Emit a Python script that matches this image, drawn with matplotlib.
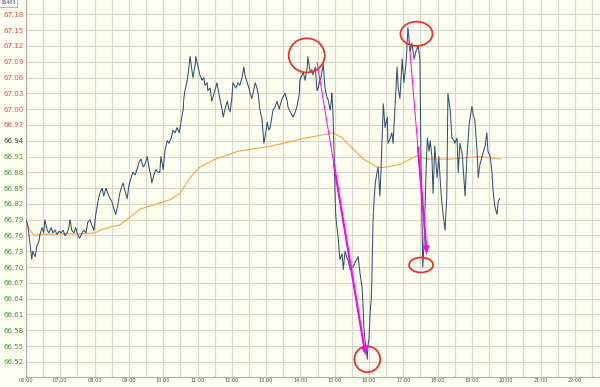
import matplotlib

matplotlib.use("Agg")
import matplotlib.pyplot as plt
from matplotlib.patches import Ellipse
import numpy as np

# intraday price, minutes after 06:00
price_min = [
    0, 3, 7, 10, 12, 16, 19, 23, 24, 28,
    31, 33, 37, 40, 44, 47, 51, 54, 58, 61,
    65, 68, 72, 75, 77, 80, 84, 87, 91, 94,
    98, 101, 105, 108, 112, 115, 119, 122, 126, 129,
    133, 136, 140, 143, 147, 150, 154, 157, 161, 164,
    168, 170, 173, 177, 180, 184, 187, 191, 194, 198,
    201, 205, 208, 212, 215, 219, 220, 224, 227, 231,
    234, 236, 240, 243, 247, 250, 254, 257, 261, 264,
    268, 271, 275, 276, 278, 282, 285, 287, 290, 292,
    296, 297, 301, 304, 308, 311, 313, 317, 318, 322,
    325, 329, 334, 339, 343, 345, 348, 352, 355, 357,
    360, 362, 367, 371, 374, 378, 381, 383, 387, 390,
    392, 395, 399, 401, 404, 406, 409, 413, 416, 420,
    422, 425, 427, 430, 432, 436, 439, 443, 444, 448,
    453, 457, 458, 462, 465, 467, 471, 474, 478, 479,
    483, 485, 488, 492, 493, 497, 500, 502, 506, 509,
    511, 514, 516, 520, 523, 527, 528, 532, 534, 535,
    537, 539, 541, 542, 546, 549, 553, 555, 558, 562,
    563, 567, 570, 572, 576, 579, 581, 584, 586, 588,
    590, 591, 593, 595, 597, 598, 600, 602, 604, 605,
    607, 609, 611, 614, 616, 619, 621, 623, 625, 628,
    632, 633, 637, 640, 642, 646, 649, 651, 654, 658,
    661, 665, 668, 672, 675, 679, 682, 686, 689, 691,
    693, 694, 696, 700, 702, 705, 707, 710, 712, 715,
    719, 722, 726, 729, 733, 736, 738, 742, 745, 749,
    750, 754, 756, 759, 763, 768, 771, 775, 780, 782,
    785, 789, 791, 794, 799, 803, 806, 808, 812, 815,
    817, 820, 824, 826, 829,
]
price = [
    66.79, 66.78, 66.745, 66.715, 66.73, 66.72, 66.74, 66.75, 66.76, 66.775,
    66.765, 66.79, 66.77, 66.765, 66.775, 66.765, 66.77, 66.762, 66.768, 66.765,
    66.77, 66.76, 66.765, 66.775, 66.79, 66.77, 66.765, 66.775, 66.76, 66.755,
    66.765, 66.77, 66.765, 66.785, 66.79, 66.78, 66.77, 66.80, 66.825, 66.84,
    66.85, 66.835, 66.85, 66.84, 66.83, 66.825, 66.81, 66.80, 66.82, 66.84,
    66.855, 66.86, 66.845, 66.83, 66.855, 66.87, 66.88, 66.875, 66.885, 66.90,
    66.905, 66.89, 66.895, 66.91, 66.89, 66.87, 66.86, 66.875, 66.885, 66.88,
    66.88, 66.91, 66.885, 66.92, 66.94, 66.935, 66.945, 66.96, 66.955, 66.965,
    66.955, 66.975, 67.00, 67.02, 67.035, 67.055, 67.08, 67.10, 67.075, 67.06,
    67.085, 67.10, 67.08, 67.065, 67.055, 67.06, 67.045, 67.05, 67.035, 67.04,
    67.015, 67.03, 67.05, 67.02, 67.00, 66.985, 67.0, 67.015, 67.0, 66.995,
    67.02, 67.05, 67.04, 67.05, 67.045, 67.06, 67.08, 67.065, 67.05, 67.04,
    67.03, 67.02, 67.04, 67.05, 67.04, 67.03, 67.0, 66.98, 66.935, 66.96,
    66.975, 66.96, 66.965, 66.985, 66.998, 67.005, 67.015, 67.0, 67.005, 67.02,
    67.03, 67.015, 67.005, 66.995, 66.99, 66.985, 66.995, 67.005, 67.03, 67.055,
    67.065, 67.07, 67.055, 67.08, 67.10, 67.07, 67.075, 67.065, 67.08, 67.035,
    67.04, 67.055, 67.06, 67.085, 67.04, 67.02, 67.02, 66.998, 67.015, 67.03,
    66.99, 66.91, 66.82, 66.795, 66.755, 66.715, 66.725, 66.695, 66.73, 66.715,
    66.715, 66.695, 66.70, 66.70, 66.71, 66.715, 66.72, 66.69, 66.675, 66.66,
    66.615, 66.585, 66.56, 66.545, 66.525, 66.55, 66.565, 66.615, 66.64, 66.68,
    66.79, 66.83, 66.86, 66.88, 66.89, 66.835, 66.885, 66.945, 67.01, 66.965,
    66.985, 66.935, 66.945, 66.955, 66.935, 67.015, 67.08, 67.04, 67.02, 67.095,
    67.05, 67.09, 67.155, 67.11, 67.125, 67.095, 67.11, 67.12, 67.095, 66.89,
    66.765, 66.70, 66.74, 66.89, 66.945, 66.92, 66.94, 66.91, 66.84, 66.93,
    66.87, 66.91, 66.84, 66.805, 66.77, 66.835, 67.03, 66.998, 66.945, 66.94,
    66.935, 66.945, 66.88, 66.935, 66.915, 66.835, 66.905, 66.97, 67.005, 66.99,
    66.98, 66.92, 66.87, 66.895, 66.915, 66.93, 66.955, 66.92, 66.91, 66.88,
    66.845, 66.815, 66.80, 66.825, 66.83,
]

# average price line
avg_min = [0, 7, 14, 24, 59, 94, 121, 129, 147, 164, 182, 199, 229, 252, 269,
           287, 304, 331, 371, 430, 488, 514, 537, 553, 567, 590, 614, 625,
           654, 684, 701, 742, 794, 829]
avg = [66.785, 66.77, 66.76, 66.762, 66.763, 66.763, 66.765, 66.77, 66.776,
       66.78, 66.795, 66.81, 66.82, 66.828, 66.84, 66.87, 66.89, 66.905, 66.92,
       66.93, 66.945, 66.95, 66.955, 66.945, 66.93, 66.905, 66.89, 66.889,
       66.895, 66.912, 66.905, 66.905, 66.91, 66.905]

prev_close = 66.94
hour_labels = ["06:00", "07:00", "08:00", "09:00", "10:00", "11:00", "12:00",
               "13:00", "14:00", "15:00", "16:00", "17:00", "18:00", "19:00",
               "20:00", "21:00", "22:00"]

BG = "#FFFFF0"
fig = plt.figure(figsize=(6, 3.87), dpi=100, facecolor=BG)
ax = fig.add_axes([26 / 600, 10 / 387, 574 / 600, 377 / 387])
ax.set_facecolor(BG)

t = np.array(price_min)
p = np.array(price)
ax.plot(6 + t / 60, p, color="#34506e", lw=0.75, zorder=3)
ax.plot(6 + np.array(avg_min) / 60, avg, color="#F7A54C", lw=0.8, zorder=2)

ax.set_xlim(6, 6 + 1004 / 60)
ax.set_ylim(66.4913, 67.2072)

ax.set_xticks(np.arange(6, 6 + len(hour_labels)))
ax.set_xticklabels(hour_labels)
ax.set_xticks(np.arange(6.5, 23, 1.0), minor=True)
yt = np.round(np.arange(66.52, 67.19, 0.03), 2)
ax.set_yticks(yt)
ax.set_yticklabels([f"{v:.2f}" for v in yt])
for lbl, v in zip(ax.get_yticklabels(), yt):
    if v > prev_close + 1e-9:
        lbl.set_color("#F24848")
    elif v < prev_close - 1e-9:
        lbl.set_color("#3C9A3C")
    else:
        lbl.set_color("#444444")

ax.grid(which="both", axis="x", color="#d6d6cc", lw=0.8)
ax.grid(which="major", axis="y", color="#d6d6cc", lw=0.8)
ax.set_axisbelow(True)
ax.tick_params(which="both", length=0)
ax.tick_params(axis="y", labelsize=5, pad=1.5)
ax.tick_params(axis="x", labelsize=3.6, pad=1, labelcolor="#555555")
for s in ["top", "right"]:
    ax.spines[s].set_visible(False)
for s in ["left", "bottom"]:
    ax.spines[s].set_color("#b0b0a8")
    ax.spines[s].set_linewidth(0.8)

# key highs / lows
win = (t >= 420) & (t <= 540)
i_hi1 = np.where(win)[0][np.argmax(p[win])]
i_lo1 = int(np.argmin(p))
i_hi2 = int(np.argmax(p))
late = t > 660
i_lo2 = np.where(late)[0][np.argmin(p[late])]

def ring(i, dx, dy, w, h):
    ax.add_patch(Ellipse((6 + (t[i] + dx) / 60, p[i] + dy), w / 60, h,
                         fill=False, ec="#E83434", lw=1.3, zorder=5))

ring(i_hi1, -2, 0.002, 63, 0.065)
ring(i_hi2, 15, -0.012, 56, 0.046)
ring(i_lo2, -3, 0.004, 42, 0.0285)
ring(i_lo1, 0, 0.0, 45, 0.049)

def move_arrow(i0, d0, i1, d1, frac):
    x0, y0 = 6 + (t[i0] + d0[0]) / 60, p[i0] + d0[1]
    x1, y1 = 6 + (t[i1] + d1[0]) / 60, p[i1] + d1[1]
    ax.plot([x0, x1], [y0, y1], color="#FF00FF", lw=0.7, zorder=6)
    xm, ym = x0 + (x1 - x0) * frac, y0 + (y1 - y0) * frac
    ax.annotate("", xy=(x1, y1), xytext=(xm, ym), zorder=6,
                arrowprops=dict(arrowstyle="-|>,head_length=0.35,head_width=0.14",
                                color="#FF00FF", lw=1.5, shrinkA=0, shrinkB=0))

move_arrow(i_hi1, (16, -0.011), i_lo1, (-3.5, 0.009), 0.35)
move_arrow(i_hi2, (2, -0.025), i_lo2, (7, 0.025), 0.5)

fig.text(0.001, 0.999, "36463", fontsize=3.5, color="#3a4a66", ha="left", va="top",
         bbox=dict(fc="white", ec="#9a9a9a", lw=0.5, pad=0.8))

fig.savefig("out.png", dpi=100, facecolor=BG)
